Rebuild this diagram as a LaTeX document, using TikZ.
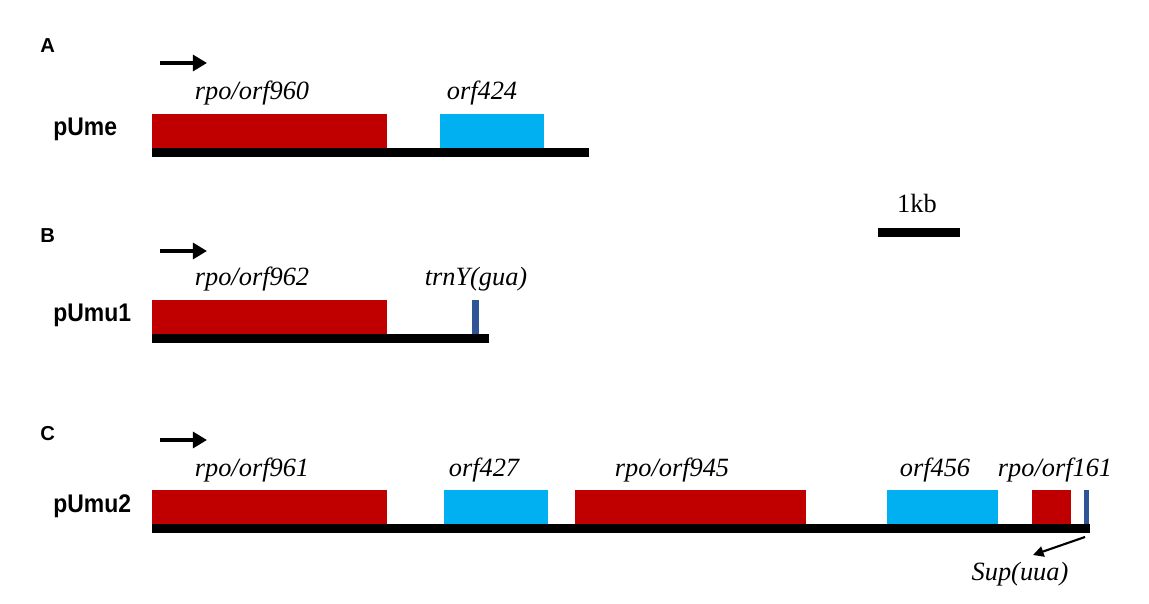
\documentclass[tikz,border=0pt]{standalone}
\usepackage{fontspec}
\setmainfont{Liberation Serif}
\setsansfont{Liberation Sans}
\usepackage{tikz}
\usetikzlibrary{calc,arrows.meta}

\definecolor{orfred}{HTML}{C00000}
\definecolor{orfcyan}{HTML}{00B0F0}
\definecolor{trnblue}{HTML}{2F5597}

% Slightly narrowed bold sans for the plasmid names
\newcommand{\plname}[1]{\scalebox{0.9}[1]{#1}}

\begin{document}
\begin{tikzpicture}[x=0.02cm, y=-0.02cm]

    % Fixes the page to the size of the figure
    \useasboundingbox (0, 0) rectangle (1149, 604);

    \tikzset{
        genelabel/.style={font=\fontsize{15}{15}\selectfont\itshape, anchor=base},
        plasmid/.style={font=\sffamily\bfseries\fontsize{14.5}{14.5}\selectfont, anchor=base west, inner sep=0pt},
        panel/.style={font=\sffamily\bfseries\fontsize{11.5}{11.5}\selectfont, anchor=base west, inner sep=0pt},
        strand/.style={line width=2.3pt, -{Triangle[length=8pt, width=9pt]}},
        backbone/.style={fill=black},
        redorf/.style={fill=orfred},
        cyanorf/.style={fill=orfcyan},
        trna/.style={fill=trnblue}
    }

    % Panel A: pUme
    \begin{scope}
        \node[panel] (lA) at (40, 53) {A};
        \coordinate (sA1) at (160, 63);
        \coordinate (sA2) at (207, 63);
        \draw[strand] (sA1) -- (sA2);

        \node[plasmid] (pUme) at (53, 136) {\plname{pUme}};

        \fill[redorf] (152, 114) rectangle (387, 148);
        \fill[cyanorf] (440, 114) rectangle (544, 148);
        \fill[backbone] (152, 148) rectangle (589, 157);

        \node[genelabel] (orf960) at (252, 100) {rpo/orf960};
        \node[genelabel] (orf424) at (482, 100) {orf424};
    \end{scope}

    % Scale bar
    \begin{scope}
        \node[genelabel, font=\fontsize{15}{15}\selectfont] (kb) at (917, 213) {1kb};
        \fill[backbone] (878, 228) rectangle (960, 237);
    \end{scope}

    % Panel B: pUmu1
    \begin{scope}
        \node[panel] (lB) at (40, 243) {B};
        \coordinate (sB1) at (160, 251);
        \coordinate (sB2) at (207, 251);
        \draw[strand] (sB1) -- (sB2);

        \node[plasmid] (pUmu1) at (53, 322) {\plname{pUmu1}};

        \fill[redorf] (152, 300) rectangle (387, 334);
        \fill[trna] (472, 300) rectangle (479, 334);
        \fill[backbone] (152, 334) rectangle (489, 343);

        \node[genelabel] (orf962) at (252, 286) {rpo/orf962};
        \node[genelabel] (trnY) at (476, 286) {trnY(gua)};
    \end{scope}

    % Panel C: pUmu2
    \begin{scope}
        \node[panel] (lC) at (40, 440) {C};
        \coordinate (sC1) at (160, 440);
        \coordinate (sC2) at (207, 440);
        \draw[strand] (sC1) -- (sC2);

        \node[plasmid] (pUmu2) at (53, 512) {\plname{pUmu2}};

        \fill[redorf] (152, 490) rectangle (387, 524);
        \fill[cyanorf] (444, 490) rectangle (548, 524);
        \fill[redorf] (575, 490) rectangle (806, 524);
        \fill[cyanorf] (887, 490) rectangle (998, 524);
        \fill[redorf] (1032, 490) rectangle (1071, 524);
        \fill[trna] (1084, 490) rectangle (1089, 524);
        \fill[backbone] (152, 524) rectangle (1090, 533);

        \node[genelabel] (orf961) at (252, 476) {rpo/orf961};
        \node[genelabel] (orf427) at (484, 476) {orf427};
        \node[genelabel] (orf945) at (672, 476) {rpo/orf945};
        \node[genelabel] (orf456) at (935, 476) {orf456};
        \node[genelabel] (orf161) at (1055, 476) {rpo/orf161};

        \node[genelabel] (sup) at (1020, 580) {Sup(uua)};
        \coordinate (supTail) at (1085, 537);
        \coordinate (supTip) at (1033, 555);
        \draw[line width=1.2pt, -{Triangle[length=6pt, width=6pt]}] (supTail) -- (supTip);
    \end{scope}

\end{tikzpicture}
\end{document}
